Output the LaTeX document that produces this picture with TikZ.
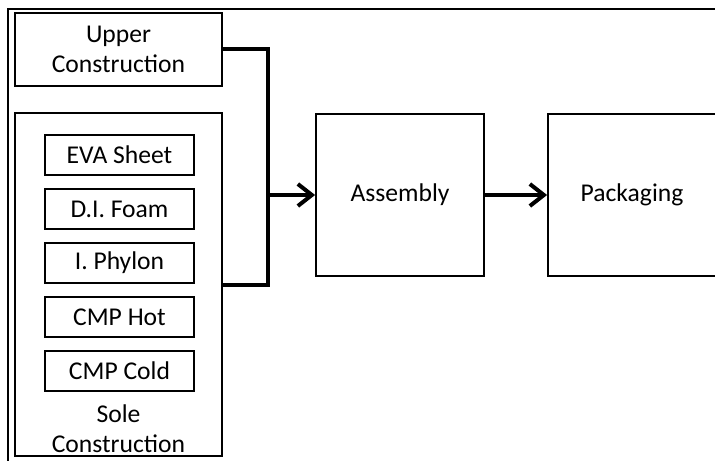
\documentclass[tikz,border=0pt]{standalone}
\usepackage{fontspec}
\setmainfont{Carlito}
\usetikzlibrary{arrows.meta,positioning}

\begin{document}
\begin{tikzpicture}[x=0.5pt,y=-0.5pt,
  txt/.style={font=\fontsize{12.8}{15}\selectfont},
  box/.style={draw,line width=0.9pt,align=center,txt},
  part/.style={box,minimum width=74.5pt,minimum height=20pt},
  stage/.style={box,minimum width=84pt,minimum height=81pt},
  flow/.style={line width=2pt,line join=miter,-{Straight Barb[length=7pt,width=11pt]}}
]
\useasboundingbox (0,0) rectangle (715,460);

% Outer frame (cut off at right and bottom)
\draw[line width=1pt] (8,490) -- (8,9) -- (745,9);

% Upper and sole construction
\node[box,minimum width=103.5pt,minimum height=36.5pt] (upper) at (118.5,49.5) {Upper\\Construction};
\node[box,minimum width=103.5pt,minimum height=171.5pt,
  label={[name=soletext,anchor=south,align=center,txt,inner sep=2pt]south:Sole\\Construction}] (sole) at (118.5,284.5) {};

% Sole parts
\foreach \i/\name/\label in {0/eva/EVA Sheet, 1/foam/D.I. Foam, 2/phylon/I. Phylon, 3/hot/CMP Hot, 4/cold/CMP Cold}
    \node[part] (\name) at (119.5,155+54*\i) {\label};

% Process stages
\node[stage] (assembly) at (400,195) {Assembly};
\node[stage] (packaging) at (632,195) {Packaging};

% Connectors
\coordinate (join) at (268,195);
\draw[line width=2pt,line join=miter] (upper.east) -| (join) |- (sole.east);
\draw[flow] (join) -- (assembly.west);
\draw[flow] (assembly.east) -- (packaging.west);
\end{tikzpicture}
\end{document}
